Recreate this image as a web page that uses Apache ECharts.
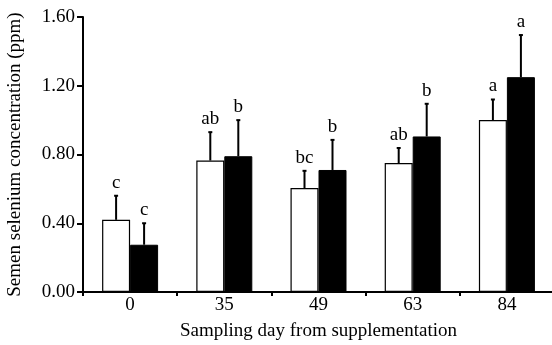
<!DOCTYPE html>
<html>
<head>
<meta charset="utf-8">
<script src="https://cdn.jsdelivr.net/npm/echarts@6/dist/echarts.min.js"></script>
<style>
html,body{margin:0;padding:0;background:#fff;}
#c{width:552px;height:345px;}
</style>
</head>
<body>
<div id="c"></div>
<script>
const categories = ['0', '35', '49', '63', '84'];
const yTicks = [0, 0.4, 0.8, 1.2, 1.6];
const whiteMean = [0.42, 0.765, 0.605, 0.75, 1.0];
const whiteErr = [0.14, 0.165, 0.10, 0.088, 0.12];
const blackMean = [0.275, 0.79, 0.71, 0.905, 1.25];
const blackErr = [0.125, 0.21, 0.175, 0.19, 0.245];
const whiteLetters = ['c', 'ab', 'bc', 'ab', 'a'];
const blackLetters = ['c', 'b', 'b', 'b', 'a'];

const FONT = "'Liberation Serif', 'Times New Roman', serif";
const BAR_W = 28;

function errData(mean, err, letters) {
  return mean.map((m, i) => [i, m, m + err[i], letters[i]]);
}
function errRender(offset) {
  return function (params, api) {
    const base = api.coord([api.value(0), api.value(1)]);
    const top = api.coord([api.value(0), api.value(2)]);
    const x = base[0] + offset;
    return {
      type: 'group',
      children: [
        { type: 'line', shape: { x1: x, y1: base[1], x2: x, y2: top[1] },
          style: { stroke: '#000', lineWidth: 2 } },
        { type: 'line', shape: { x1: x - 2, y1: top[1], x2: x + 2, y2: top[1] },
          style: { stroke: '#000', lineWidth: 2 } },
        { type: 'text', x: x, y: top[1] - 13,
          style: { text: api.value(3), fill: '#000', font: '19px ' + FONT,
                   align: 'center', verticalAlign: 'middle' } }
      ]
    };
  };
}

const chart = echarts.init(document.getElementById('c'), null, { renderer: 'canvas' });
chart.setOption({
  animation: false,
  backgroundColor: '#fff',
  grid: { left: 83, top: 17, width: 471, height: 275, containLabel: false, outerBoundsMode: 'none' },
  xAxis: {
    type: 'category',
    data: categories,
    boundaryGap: true,
    name: 'Sampling day from supplementation',
    nameLocation: 'middle',
    nameGap: 30,
    nameTextStyle: { fontFamily: FONT, fontSize: 19, color: '#000' },
    axisLine: { lineStyle: { color: '#000', width: 2 } },
    axisTick: { show: true, length: 4, inside: false, lineStyle: { color: '#000', width: 2 } },
    axisLabel: { fontFamily: FONT, fontSize: 19, color: '#000', margin: 4 },
    splitLine: { show: false }
  },
  yAxis: {
    type: 'value',
    min: yTicks[0],
    max: yTicks[yTicks.length - 1],
    interval: 0.4,
    name: 'Semen selenium concentration (ppm)',
    nameLocation: 'middle',
    nameRotate: 90,
    nameGap: 58,
    nameTextStyle: { fontFamily: FONT, fontSize: 19, color: '#000' },
    axisLine: { show: true, lineStyle: { color: '#000', width: 2 } },
    axisTick: { show: true, length: 6, lineStyle: { color: '#000', width: 2 } },
    axisLabel: { fontFamily: FONT, fontSize: 19, color: '#000', margin: 8,
                 formatter: v => v.toFixed(2) },
    splitLine: { show: false }
  },
  series: [
    { type: 'bar', data: whiteMean, barWidth: BAR_W, barGap: '0%',
      itemStyle: { color: '#fff', borderColor: '#000', borderWidth: 1.2 } },
    { type: 'bar', data: blackMean, barWidth: BAR_W, barGap: '0%',
      itemStyle: { color: '#000', borderColor: '#000', borderWidth: 1 } },
    { type: 'custom', data: errData(whiteMean, whiteErr, whiteLetters),
      renderItem: errRender(-BAR_W / 2), z: 5 },
    { type: 'custom', data: errData(blackMean, blackErr, blackLetters),
      renderItem: errRender(BAR_W / 2), z: 5 }
  ]
});
</script>
</body>
</html>
